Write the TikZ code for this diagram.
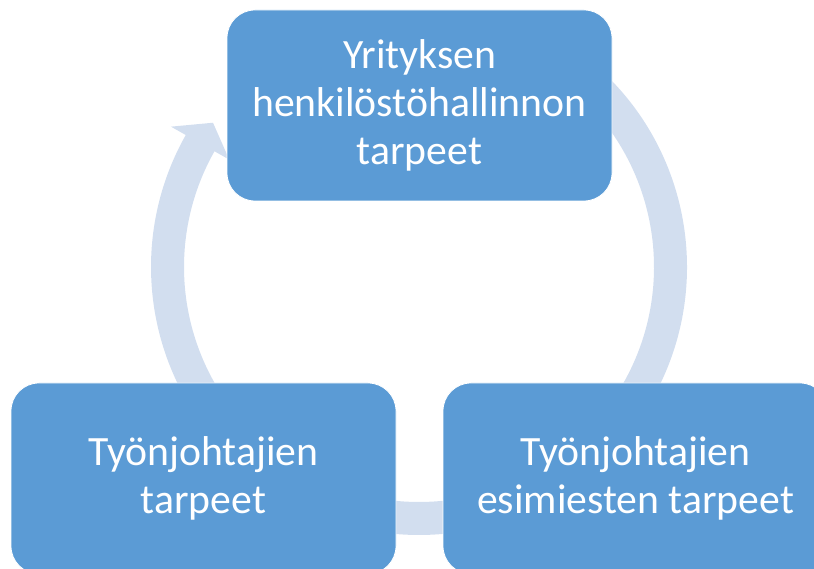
\documentclass[tikz,border=0pt]{standalone}
\usepackage{fontspec}
\setmainfont{Carlito}
\definecolor{boxblue}{HTML}{5B9BD5}
\definecolor{arcblue}{HTML}{D2DEEF}
\begin{document}
\begin{tikzpicture}[x=1pt,y=1pt,
  nodebox/.style={draw=white, line width=0.8pt, fill=boxblue, rounded corners=28pt,
    minimum width=385pt, minimum height=191pt, inner sep=0pt, align=center,
    text=white, font=\fontsize{41.7}{48}\selectfont},
  arcshape/.style={fill=arcblue, draw=none}]
\useasboundingbox (0,0) rectangle (814,569);
\clip (0,0) rectangle (814,569);
\coordinate (c) at (419,302);
% circular arrow segments (behind the boxes)
\begin{scope}[shift={(c)}]
  % left segment with head
  \fill[arcshape] (215:268) arc[start angle=215, end angle=150.5, radius=268]
     -- (150.5:285) -- (145:251.5) -- (150.5:218) -- (150.5:235)
     arc[start angle=150.5, end angle=215, radius=235] -- cycle;
  % right segment
  \fill[arcshape] (50:268) arc[start angle=50, end angle=-40, radius=268]
     -- (-40:235) arc[start angle=-40, end angle=50, radius=235] -- cycle;
  % bottom segment
  \fill[arcshape] (300:268) arc[start angle=300, end angle=240, radius=268]
     -- (240:235) arc[start angle=240, end angle=300, radius=235] -- cycle;
\end{scope}
\node[nodebox] (top) at (419.5,463.5) {Yrityksen\\henkilöstöhallinnon\\tarpeet};
\node[nodebox] (left) at (203.5,90.5) {Työnjohtajien\\tarpeet};
\node[nodebox] (right) at (635.5,90.5) {Työnjohtajien\\esimiesten tarpeet};
\end{tikzpicture}
\end{document}
